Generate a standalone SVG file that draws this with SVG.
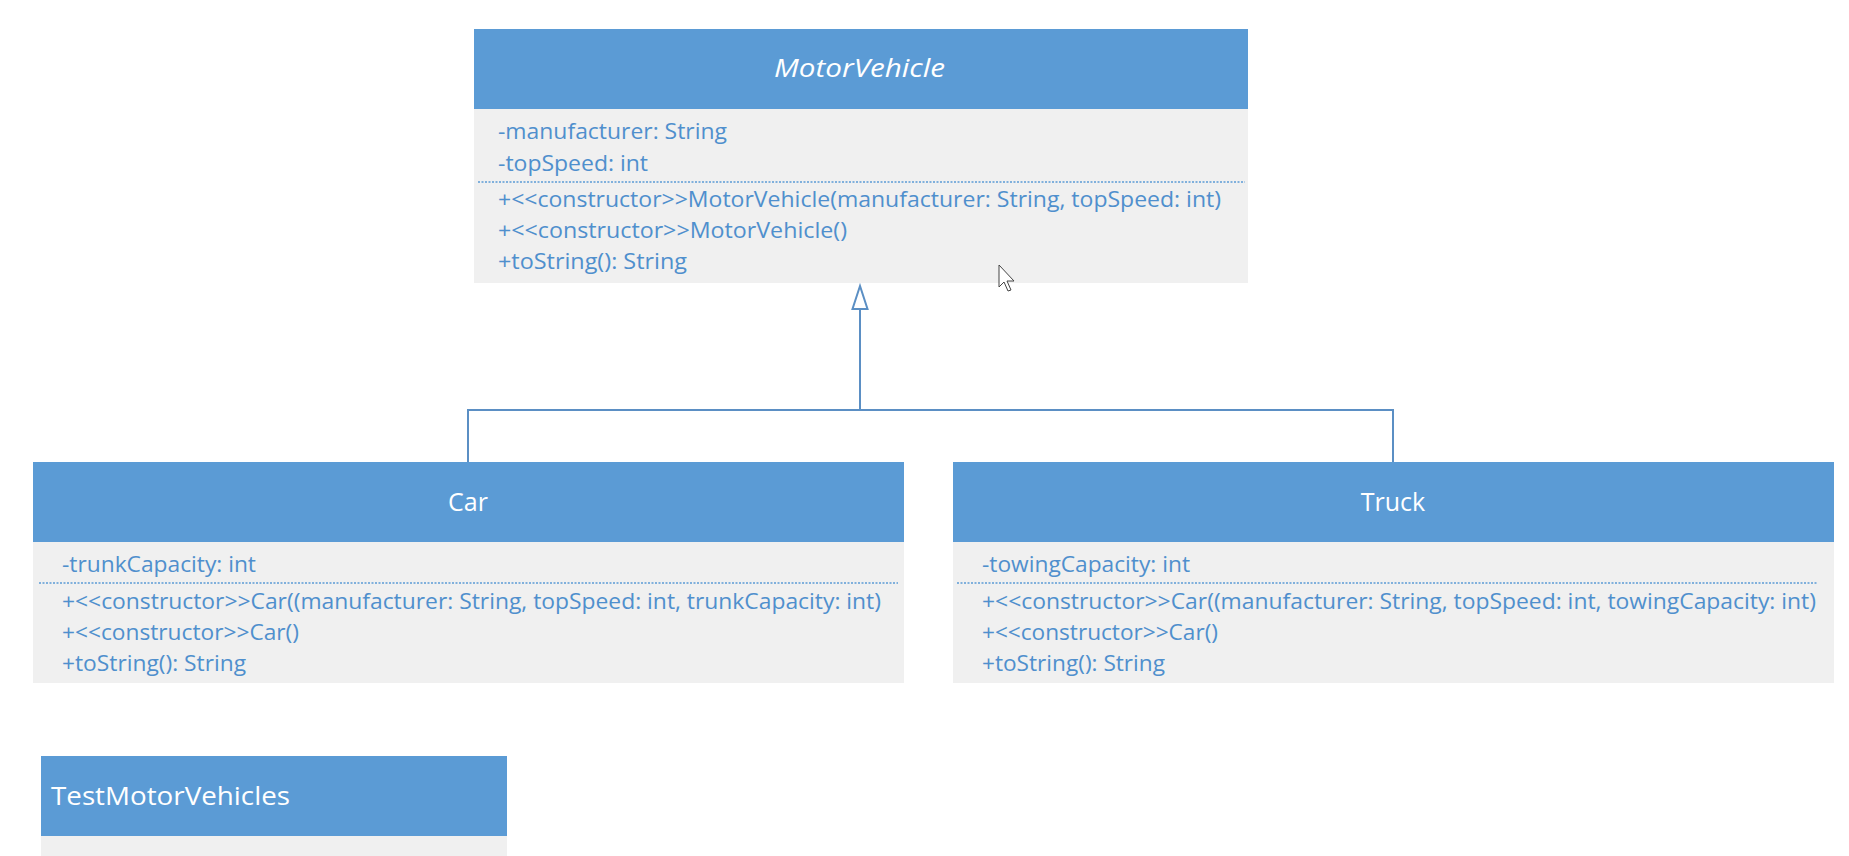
<svg xmlns="http://www.w3.org/2000/svg" width="1849" height="856" viewBox="0 0 1849 856">
<style>
.hdr{fill:#5B9BD5}
.body{fill:#F0F0F0}
.title{font-family:"Open Sans",Lato,"Liberation Sans",sans-serif;font-size:25px;fill:#FFFFFF}
.t{font-family:"Open Sans",Lato,"Liberation Sans",sans-serif;font-size:21px;fill:#4F8FCD}
.sep{stroke:#5B9BD5;stroke-width:1.3;stroke-dasharray:2 1.5}
.conn{stroke:#5B8FC4;stroke-width:2;fill:none}
</style>
<rect width="1849" height="856" fill="#FFFFFF"/>
<g id="MotorVehicle">
<rect class="body" x="474" y="29" width="774" height="254"/>
<rect class="hdr" x="474" y="29" width="774" height="80"/>
<text class="title" x="774" y="77" font-style="italic" textLength="171" lengthAdjust="spacingAndGlyphs">MotorVehicle</text>
<text class="t" x="498" y="139" textLength="229" lengthAdjust="spacingAndGlyphs">-manufacturer: String</text>
<text class="t" x="498" y="171" textLength="150" lengthAdjust="spacingAndGlyphs">-topSpeed: int</text>
<line class="sep" x1="478" y1="182" x2="1245" y2="182"/>
<text class="t" x="498" y="207" textLength="723" lengthAdjust="spacingAndGlyphs">+&lt;&lt;constructor&gt;&gt;MotorVehicle(manufacturer: String, topSpeed: int)</text>
<text class="t" x="498" y="238" textLength="349" lengthAdjust="spacingAndGlyphs">+&lt;&lt;constructor&gt;&gt;MotorVehicle()</text>
<text class="t" x="498" y="269" textLength="189" lengthAdjust="spacingAndGlyphs">+toString(): String</text>
</g>
<g id="Car">
<rect class="body" x="33" y="462" width="871" height="221"/>
<rect class="hdr" x="33" y="462" width="871" height="80"/>
<text class="title" x="468" y="511" text-anchor="middle">Car</text>
<text class="t" x="62" y="572" textLength="194" lengthAdjust="spacingAndGlyphs">-trunkCapacity: int</text>
<line class="sep" x1="39" y1="583" x2="898" y2="583"/>
<text class="t" x="62" y="609" textLength="819" lengthAdjust="spacingAndGlyphs">+&lt;&lt;constructor&gt;&gt;Car((manufacturer: String, topSpeed: int, trunkCapacity: int)</text>
<text class="t" x="62" y="640" textLength="237" lengthAdjust="spacingAndGlyphs">+&lt;&lt;constructor&gt;&gt;Car()</text>
<text class="t" x="62" y="671" textLength="184" lengthAdjust="spacingAndGlyphs">+toString(): String</text>
</g>
<g id="Truck">
<rect class="body" x="953" y="462" width="881" height="221"/>
<rect class="hdr" x="953" y="462" width="881" height="80"/>
<text class="title" x="1393" y="511" text-anchor="middle">Truck</text>
<text class="t" x="982" y="572" textLength="208" lengthAdjust="spacingAndGlyphs">-towingCapacity: int</text>
<line class="sep" x1="957" y1="583" x2="1818" y2="583"/>
<text class="t" x="982" y="609" textLength="834" lengthAdjust="spacingAndGlyphs">+&lt;&lt;constructor&gt;&gt;Car((manufacturer: String, topSpeed: int, towingCapacity: int)</text>
<text class="t" x="982" y="640" textLength="236" lengthAdjust="spacingAndGlyphs">+&lt;&lt;constructor&gt;&gt;Car()</text>
<text class="t" x="982" y="671" textLength="183" lengthAdjust="spacingAndGlyphs">+toString(): String</text>
</g>
<g id="TestMotorVehicles">
<rect class="body" x="41" y="756" width="466" height="100"/>
<rect class="hdr" x="41" y="756" width="466" height="80"/>
<text class="title" x="51" y="805" textLength="239" lengthAdjust="spacingAndGlyphs">TestMotorVehicles</text>
</g>
<g id="connectors">
<path class="conn" d="M860 309 V410 M468 462 V410 H1393 V462"/>
<polygon class="conn" points="860,286 852.5,309 867.5,309"/>
</g>
<g id="cursor">
<path d="M999 265 V287 L1004 282 L1008 291 L1011 290 L1007 281 L1014 281 Z" fill="#FFFFFF" stroke="#444" stroke-width="1"/>
</g>
</svg>
